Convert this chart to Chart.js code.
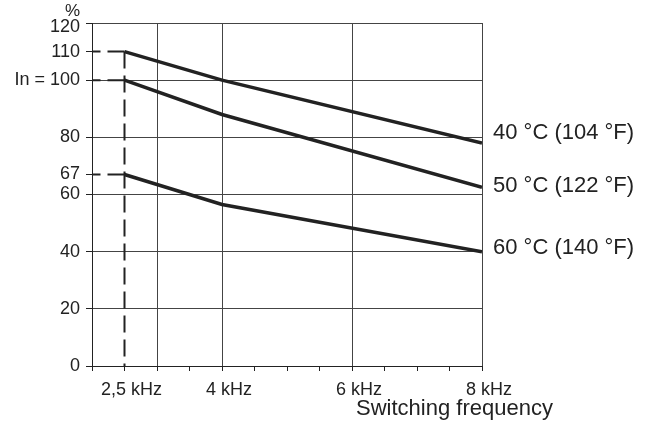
<!DOCTYPE html>
<html>
<head>
<meta charset="utf-8">
<script src="https://cdn.jsdelivr.net/npm/chart.js@4"></script>
<style>
  html, body { margin: 0; padding: 0; background: #fff; }
  #wrap { width: 651px; height: 421px; }
</style>
</head>
<body>
<div id="wrap"><canvas id="derating" width="651" height="421"></canvas></div>
<script>
// Derating curves: rated current (%) vs switching frequency (kHz)
const freqPoints = [2.5, 4, 8];
const curve40 = [110, 100, 78];
const curve50 = [100, 88, 62.5];
const curve60 = [67, 56.5, 40];
const curveLabels = ['40 °C (104 °F)', '50 °C (122 °F)', '60 °C (140 °F)'];

const yTickValues = [0, 20, 40, 60, 67, 80, 100, 110, 120];
const yGridValues = [20, 40, 60, 80, 100, 120];
const xLabelValues = [2.5, 4, 6, 8];
const xGridValues = [3, 4, 6, 8];
const refLevels = [110, 100, 67];   // dashed marks back to the axis
const refFreq = 2.5;

const ink = '#222';
const gridInk = '#444';
const font = 'Liberation Sans, Arial, sans-serif';

function toXY(values) {
    return values.map((v, i) => ({ x: freqPoints[i], y: v }));
}

const datasets = [curve40, curve50, curve60].map(values => ({
    data: toXY(values),
    borderColor: ink,
    borderWidth: 3.5,
    pointRadius: 0,
    tension: 0
}));

// dashed guides from the 2.5 kHz start points
datasets.push({
    data: [{ x: refFreq, y: refLevels[0] }, { x: refFreq, y: 0 }],
    borderColor: ink, borderWidth: 2, borderDash: [17, 7], pointRadius: 0
});
refLevels.forEach(level => {
    datasets.push({
        data: [{ x: refFreq, y: level }, { x: 2, y: level }],
        borderColor: ink, borderWidth: 2, borderDash: [17, 7], pointRadius: 0
    });
});

// extra text: %, top tick, curve names, axis title
const textPlugin = {
    id: 'extraText',
    afterDraw(chart) {
        const { ctx, chartArea, scales } = chart;
        ctx.save();
        ctx.fillStyle = ink;

        ctx.font = '17px ' + font;
        ctx.textAlign = 'right';
        ctx.textBaseline = 'alphabetic';
        ctx.fillText('%', 80, 16);

        // top tick label sits a little lower in the original, clear of the %
        ctx.font = '18px ' + font;
        ctx.textBaseline = 'middle';
        const topVal = yTickValues[yTickValues.length - 1];
        ctx.fillText(String(topVal), 80, scales.y.getPixelForValue(topVal) + 4);

        ctx.font = '22px ' + font;
        ctx.textAlign = 'left';
        ctx.textBaseline = 'alphabetic';
        const ends = [curve40, curve50, curve60].map(c => c[c.length - 1]);
        const dy = [-4, 5, 2];
        ends.forEach((v, i) => {
            const y = scales.y.getPixelForValue(v) + dy[i];
            ctx.fillText(curveLabels[i], chartArea.right + 11, y);
        });

        ctx.fillText('Switching frequency', 356, 415);
        ctx.restore();
    }
};

new Chart(document.getElementById('derating'), {
    type: 'line',
    data: { datasets },
    options: {
        responsive: false,
        animation: false,
        layout: { padding: { top: 23, right: 169, left: 0, bottom: 0 } },
        plugins: { legend: { display: false }, tooltip: { enabled: false } },
        scales: {
            x: {
                type: 'linear',
                min: 2,
                max: 8,
                afterFit: scale => { scale.height = 55; },
                border: { color: ink, width: 1 },
                grid: {
                    color: c => (c.tick && xGridValues.includes(c.tick.value)) ? gridInk : 'transparent',
                    tickColor: ink,
                    tickLength: 5
                },
                ticks: {
                    stepSize: 0.5,
                    autoSkip: false,
                    maxRotation: 0,
                    padding: 8,
                    labelOffset: 7,
                    color: ink,
                    font: { family: font, size: 18 },
                    callback: v => xLabelValues.includes(v) ? String(v).replace('.', ',') + ' kHz' : ''
                }
            },
            y: {
                min: 0,
                max: 120,
                afterFit: scale => { scale.width = 92; },
                afterBuildTicks: scale => { scale.ticks = yTickValues.map(v => ({ value: v })); },
                border: { color: ink, width: 1 },
                grid: {
                    color: c => (c.tick && yGridValues.includes(c.tick.value)) ? gridInk : 'transparent',
                    tickColor: ink,
                    tickLength: 6
                },
                ticks: {
                    autoSkip: false,
                    padding: 6,
                    color: ink,
                    font: { family: font, size: 18 },
                    callback: v => v === 100 ? 'In = 100' : (v === 120 ? '' : String(v))
                }
            }
        }
    },
    plugins: [textPlugin]
});
</script>
</body>
</html>
